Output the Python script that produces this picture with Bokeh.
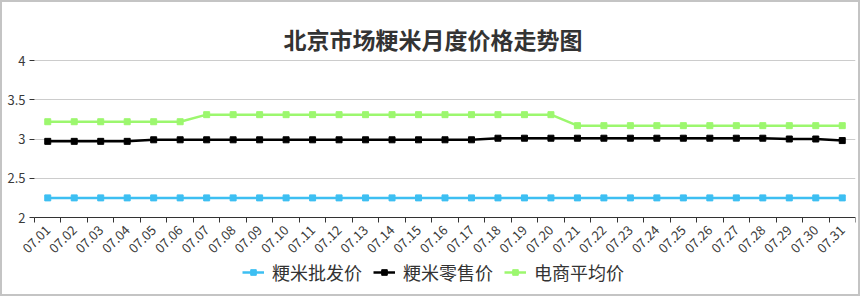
import math
from bokeh.plotting import figure
from bokeh.models import (ColumnDataSource, FixedTicker, NumeralTickFormatter, Label,
                          Legend, LegendItem, Range1d)
from bokeh.embed import file_html
from bokeh.resources import INLINE

# ---- data ----
dates = ["07.01", "07.02", "07.03", "07.04", "07.05", "07.06", "07.07", "07.08",
         "07.09", "07.10", "07.11", "07.12", "07.13", "07.14", "07.15", "07.16",
         "07.17", "07.18", "07.19", "07.20", "07.21", "07.22", "07.23", "07.24",
         "07.25", "07.26", "07.27", "07.28", "07.29", "07.30", "07.31"]
wholesale = [2.25, 2.25, 2.25, 2.25, 2.25, 2.25, 2.25, 2.25, 2.25, 2.25, 2.25,
             2.25, 2.25, 2.25, 2.25, 2.25, 2.25, 2.25, 2.25, 2.25, 2.25, 2.25,
             2.25, 2.25, 2.25, 2.25, 2.25, 2.25, 2.25, 2.25, 2.25]
retail = [2.97, 2.97, 2.97, 2.97, 2.99, 2.99, 2.99, 2.99, 2.99, 2.99, 2.99,
          2.99, 2.99, 2.99, 2.99, 2.99, 2.99, 3.01, 3.01, 3.01, 3.01, 3.01,
          3.01, 3.01, 3.01, 3.01, 3.01, 3.01, 3.00, 3.00, 2.98]
ecommerce = [3.22, 3.22, 3.22, 3.22, 3.22, 3.22, 3.31, 3.31, 3.31, 3.31, 3.31,
             3.31, 3.31, 3.31, 3.31, 3.31, 3.31, 3.31, 3.31, 3.31, 3.17, 3.17,
             3.17, 3.17, 3.17, 3.17, 3.17, 3.17, 3.17, 3.17, 3.17]
series_names = ["粳米批发价", "粳米零售价", "电商平均价"]
y_ticks = [2, 2.5, 3, 3.5, 4]
title_text = "北京市场粳米月度价格走势图"

FONT = "Noto Sans CJK SC"
colors = ["#3dbff2", "#000000", "#9cf76e"]

# frame covers the whole canvas; the value band 2..4 and the category band
# sit inside it, leaving room for title, labels and legend
Y_MIN, Y_MAX = 2, 4
PX_PER_UNIT = 78.5
H, W = 296, 860
y_lo = Y_MIN - (H - 215) / PX_PER_UNIT
y_hi = Y_MAX + 58 / PX_PER_UNIT
X_MIN, X_MAX = -0.5, len(dates) - 0.5
PX_PER_CAT = 821 / len(dates)
x_lo = X_MIN - 32 / PX_PER_CAT

idx = list(range(len(dates)))
src = ColumnDataSource(dict(x=idx, w=wholesale, r=retail, e=ecommerce))

p = figure(width=W, height=H, output_backend="svg", toolbar_location=None,
           x_range=Range1d(x_lo, X_MAX), y_range=Range1d(y_lo, y_hi),
           min_border_left=0, min_border_right=7, min_border_top=0,
           min_border_bottom=0)
p.styles = {"border": "2px solid #c4c4c4"}
p.outline_line_color = None
p.background_fill_color = "white"
p.border_fill_color = "white"

# horizontal grid lines
grid = p.ygrid[0]
if "cross_bounds" in grid.properties():
    grid.cross_bounds = (X_MIN, X_MAX)
    grid.grid_line_color = "#cccccc"
    grid.grid_line_width = 1
else:
    grid.grid_line_color = None
    p.segment(x0=[X_MIN] * len(y_ticks), x1=[X_MAX] * len(y_ticks),
              y0=y_ticks, y1=y_ticks, line_color="#cccccc", line_width=1)
p.xgrid.grid_line_color = None

items = []
for col, name, c in zip(["w", "r", "e"], series_names, colors):
    ln = p.line("x", col, source=src, line_color=c, line_width=2.5)
    sc = p.scatter("x", col, source=src, marker="square", size=6,
                   fill_color=c, line_color=c)
    items.append(LegendItem(label=name, renderers=[ln, sc]))

# x axis: ticks at boundaries (minor), labels at centres, fixed at y=2
xa = p.xaxis[0]
xa.fixed_location = Y_MIN
xa.bounds = (X_MIN, X_MAX)
xa.ticker = FixedTicker(ticks=idx, minor_ticks=[i - 0.5 for i in range(len(dates) + 1)])
xa.major_label_overrides = {i: d for i, d in zip(idx, dates)}
xa.major_tick_in = 0
xa.major_tick_out = 0
xa.minor_tick_in = 0
xa.minor_tick_out = 5
xa.minor_tick_line_color = "#333333"
xa.axis_line_color = "#333333"
xa.major_label_orientation = math.pi / 4
xa.major_label_standoff = 5
xa.major_label_text_font = FONT
xa.major_label_text_font_size = "13px"
xa.major_label_text_color = "#3a3a3a"

# y axis fixed at the left edge of the category band
ya = p.yaxis[0]
ya.fixed_location = X_MIN
ya.bounds = (Y_MIN, Y_MAX)
ya.ticker = FixedTicker(ticks=y_ticks)
ya.formatter = NumeralTickFormatter(format="0.[0]")
ya.axis_line_color = None
ya.major_tick_in = 0
ya.major_tick_out = 5
ya.minor_tick_line_color = None
ya.major_tick_line_color = "#333333"
ya.major_label_standoff = 4
ya.major_label_text_font = FONT
ya.major_label_text_font_size = "13px"
ya.major_label_text_color = "#3a3a3a"

title = Label(x=(len(dates) - 1) / 2, y=Y_MAX, x_offset=-12, y_offset=22,
              text=title_text, text_align="center", text_baseline="middle",
              text_font=FONT, text_font_style="bold", text_font_size="23px",
              text_color="#333333")
p.add_layout(title)

legend = Legend(items=items, orientation="horizontal", location=(240, 13),
                label_text_font=FONT, label_text_font_size="18px",
                label_text_color="#333333", glyph_width=22, glyph_height=14,
                spacing=11, label_standoff=8, border_line_color=None,
                background_fill_alpha=0, padding=2, margin=0)
p.add_layout(legend, "center")

open("out.html", "w").write(file_html(p, INLINE))
